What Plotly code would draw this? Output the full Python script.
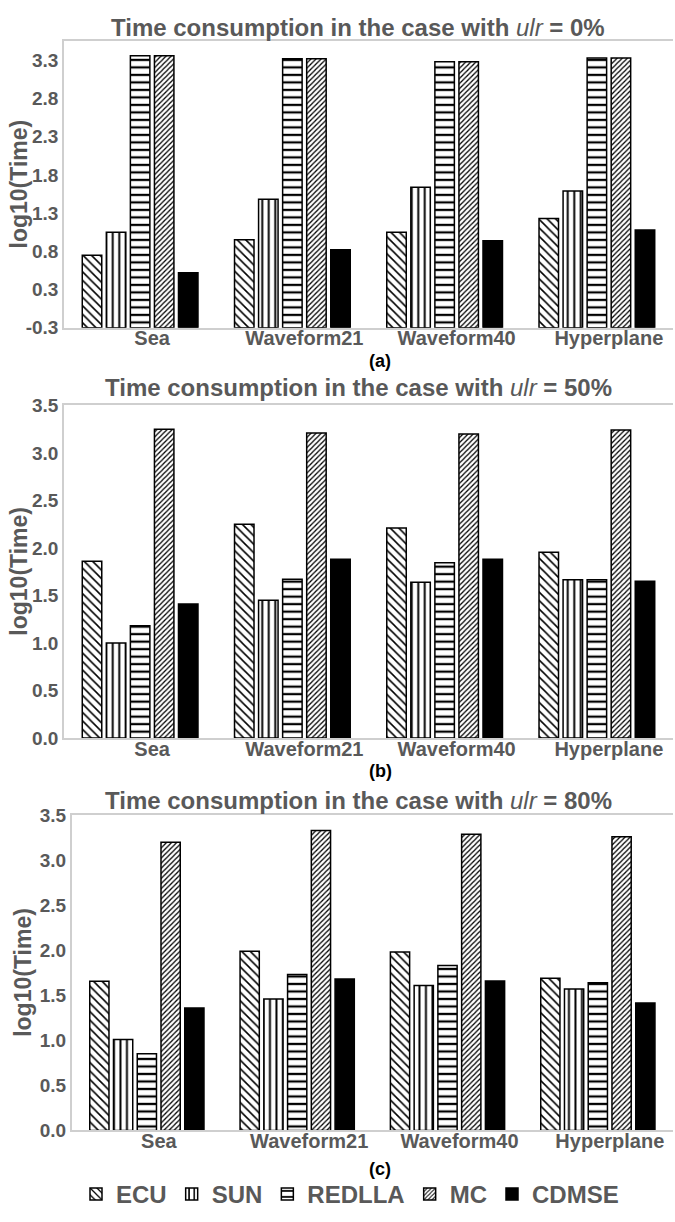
import plotly.graph_objects as go

# ---- data ----------------------------------------------------------------
datasets = ["Sea", "Waveform21", "Waveform40", "Hyperplane"]
methods = ["ECU", "SUN", "REDLLA", "MC", "CDMSE"]

# log10(Time) for ulr = 0%
ulr0_ecu = [0.70, 0.90, 1.00, 1.18]
ulr0_sun = [1.00, 1.43, 1.59, 1.54]
ulr0_redlla = [3.31, 3.27, 3.23, 3.28]
ulr0_mc = [3.31, 3.27, 3.23, 3.28]
ulr0_cdmse = [0.47, 0.77, 0.89, 1.03]

# log10(Time) for ulr = 50%
ulr50_ecu = [1.86, 2.25, 2.21, 1.955]
ulr50_sun = [1.00, 1.45, 1.64, 1.665]
ulr50_redlla = [1.18, 1.67, 1.845, 1.665]
ulr50_mc = [3.25, 3.21, 3.20, 3.24]
ulr50_cdmse = [1.41, 1.88, 1.88, 1.65]

# log10(Time) for ulr = 80%
ulr80_ecu = [1.655, 1.99, 1.98, 1.69]
ulr80_sun = [1.01, 1.46, 1.61, 1.57]
ulr80_redlla = [0.85, 1.73, 1.83, 1.64]
ulr80_mc = [3.20, 3.33, 3.29, 3.26]
ulr80_cdmse = [1.36, 1.68, 1.66, 1.415]

# y ticks of the first panel sit at quarter values and are shown rounded to one decimal
ticks_a_vals = [-0.25, 0.25, 0.75, 1.25, 1.75, 2.25, 2.75, 3.25]
ticks_a_text = ["-0.3", "0.3", "0.8", "1.3", "1.8", "2.3", "2.8", "3.3"]
ticks_bc_vals = [0.0, 0.5, 1.0, 1.5, 2.0, 2.5, 3.0, 3.5]
ticks_bc_text = ["0.0", "0.5", "1.0", "1.5", "2.0", "2.5", "3.0", "3.5"]

panel_titles = ["0%", "50%", "80%"]
panel_letters = ["(a)", "(b)", "(c)"]

# ---- styling ---------------------------------------------------------------
W, H = 675, 1222
GRAY = "#595959"
AXIS_GRAY = "#cfcfcf"
FONT = "Liberation Sans, Arial, sans-serif"

patterns = {
    "ECU": dict(shape="\\", size=6, solidity=0.26),
    "SUN": dict(shape="|", size=6.5, solidity=0.3),
    "REDLLA": dict(shape="-", size=7.5, solidity=0.3),
    "MC": dict(shape="/", size=3.6, solidity=0.35),
    "CDMSE": None,
}

panels = [
    dict(vals=[ulr0_ecu, ulr0_sun, ulr0_redlla, ulr0_mc, ulr0_cdmse],
         x0=64, x1=673, top=31.7, bottom=323.3, rng=[-0.25, 3.5],
         tv=ticks_a_vals, tt=ticks_a_text, title_y=18, letter_y=357, ytitle_x=19),
    dict(vals=[ulr50_ecu, ulr50_sun, ulr50_redlla, ulr50_mc, ulr50_cdmse],
         x0=64, x1=673, top=402.3, bottom=740.7, rng=[0, 3.5],
         tv=ticks_bc_vals, tt=ticks_bc_text, title_y=384, letter_y=774, ytitle_x=19),
    dict(vals=[ulr80_ecu, ulr80_sun, ulr80_redlla, ulr80_mc, ulr80_cdmse],
         x0=71.7, x1=673, top=819.3, bottom=1140, rng=[0, 3.5],
         tv=ticks_bc_vals, tt=ticks_bc_text, title_y=804, letter_y=1179, ytitle_x=23),
]

fig = go.Figure()
annotations = []
layout_axes = {}

for i, p in enumerate(panels):
    n = "" if i == 0 else str(i + 1)
    xref, yref = "x" + n, "y" + n
    base = p["rng"][0]  # bars rise from the bottom of the value axis
    for m, vals in zip(methods, p["vals"]):
        pat = patterns[m]
        if pat is None:
            marker = dict(color="black", line=dict(color="black", width=1.5))
        else:
            marker = dict(color="white", line=dict(color="black", width=1.5),
                          pattern=dict(fgcolor="black", bgcolor="white",
                                       fillmode="replace", **pat))
        fig.add_trace(go.Bar(x=datasets, y=[v - base for v in vals], base=base,
                             customdata=vals, hovertemplate="%{customdata}<extra>" + m + "</extra>",
                             name=m, marker=marker,
                             xaxis=xref, yaxis=yref, legendgroup=m,
                             showlegend=(i == 0)))

    layout_axes["xaxis" + n] = dict(
        domain=[p["x0"] / W, p["x1"] / W], anchor=yref,
        showline=True, linecolor=AXIS_GRAY, linewidth=1.5, mirror=True,
        ticks="", showgrid=False, zeroline=False, fixedrange=True,
        ticklabelstandoff=-8, ticklabelshift=12,
        tickfont=dict(family=FONT, size=20, color=GRAY, weight="bold"),
    )
    layout_axes["yaxis" + n] = dict(
        domain=[1 - p["bottom"] / H, 1 - p["top"] / H], anchor=xref,
        range=p["rng"], tickvals=p["tv"], ticktext=p["tt"],
        showline=True, linecolor=AXIS_GRAY, linewidth=1.5,
        ticks="", showgrid=False, zeroline=False, fixedrange=True,
        tickfont=dict(family=FONT, size=19, color=GRAY, weight="bold"),
    )

    annotations.append(dict(
        text=("Time consumption in the case with "
              "<span style='font-weight:normal'><i>ulr</i></span> = " + panel_titles[i]),
        x=358 / W, y=1 - p["title_y"] / H,
        xref="paper", yref="paper", showarrow=False, xanchor="center", yanchor="middle",
        font=dict(family=FONT, size=24, color=GRAY, weight="bold")))
    annotations.append(dict(
        text=panel_letters[i], x=380 / W, y=1 - p["letter_y"] / H,
        xref="paper", yref="paper", showarrow=False, xanchor="center", yanchor="middle",
        font=dict(family=FONT, size=18, color="black", weight="bold")))
    annotations.append(dict(
        text="log10(Time)", textangle=-90, x=p["ytitle_x"] / W,
        y=1 - (p["top"] + p["bottom"]) / 2 / H,
        xref="paper", yref="paper", showarrow=False, xanchor="center", yanchor="middle",
        font=dict(family=FONT, size=23, color=GRAY, weight="bold")))

fig.update_layout(
    width=W, height=H, margin=dict(l=0, r=0, t=0, b=0),
    paper_bgcolor="white", plot_bgcolor="white",
    barmode="group", bargap=0.21, bargroupgap=0.19,
    showlegend=True,
    legend=dict(orientation="h", x=350 / W, xanchor="center", y=1 - 1205 / H,
                yanchor="middle", font=dict(family=FONT, size=24, color=GRAY, weight="bold"),
                itemwidth=30, tracegroupgap=0, bgcolor="rgba(0,0,0,0)"),
    annotations=annotations,
    **layout_axes,
)

fig.write_html("out.html")
